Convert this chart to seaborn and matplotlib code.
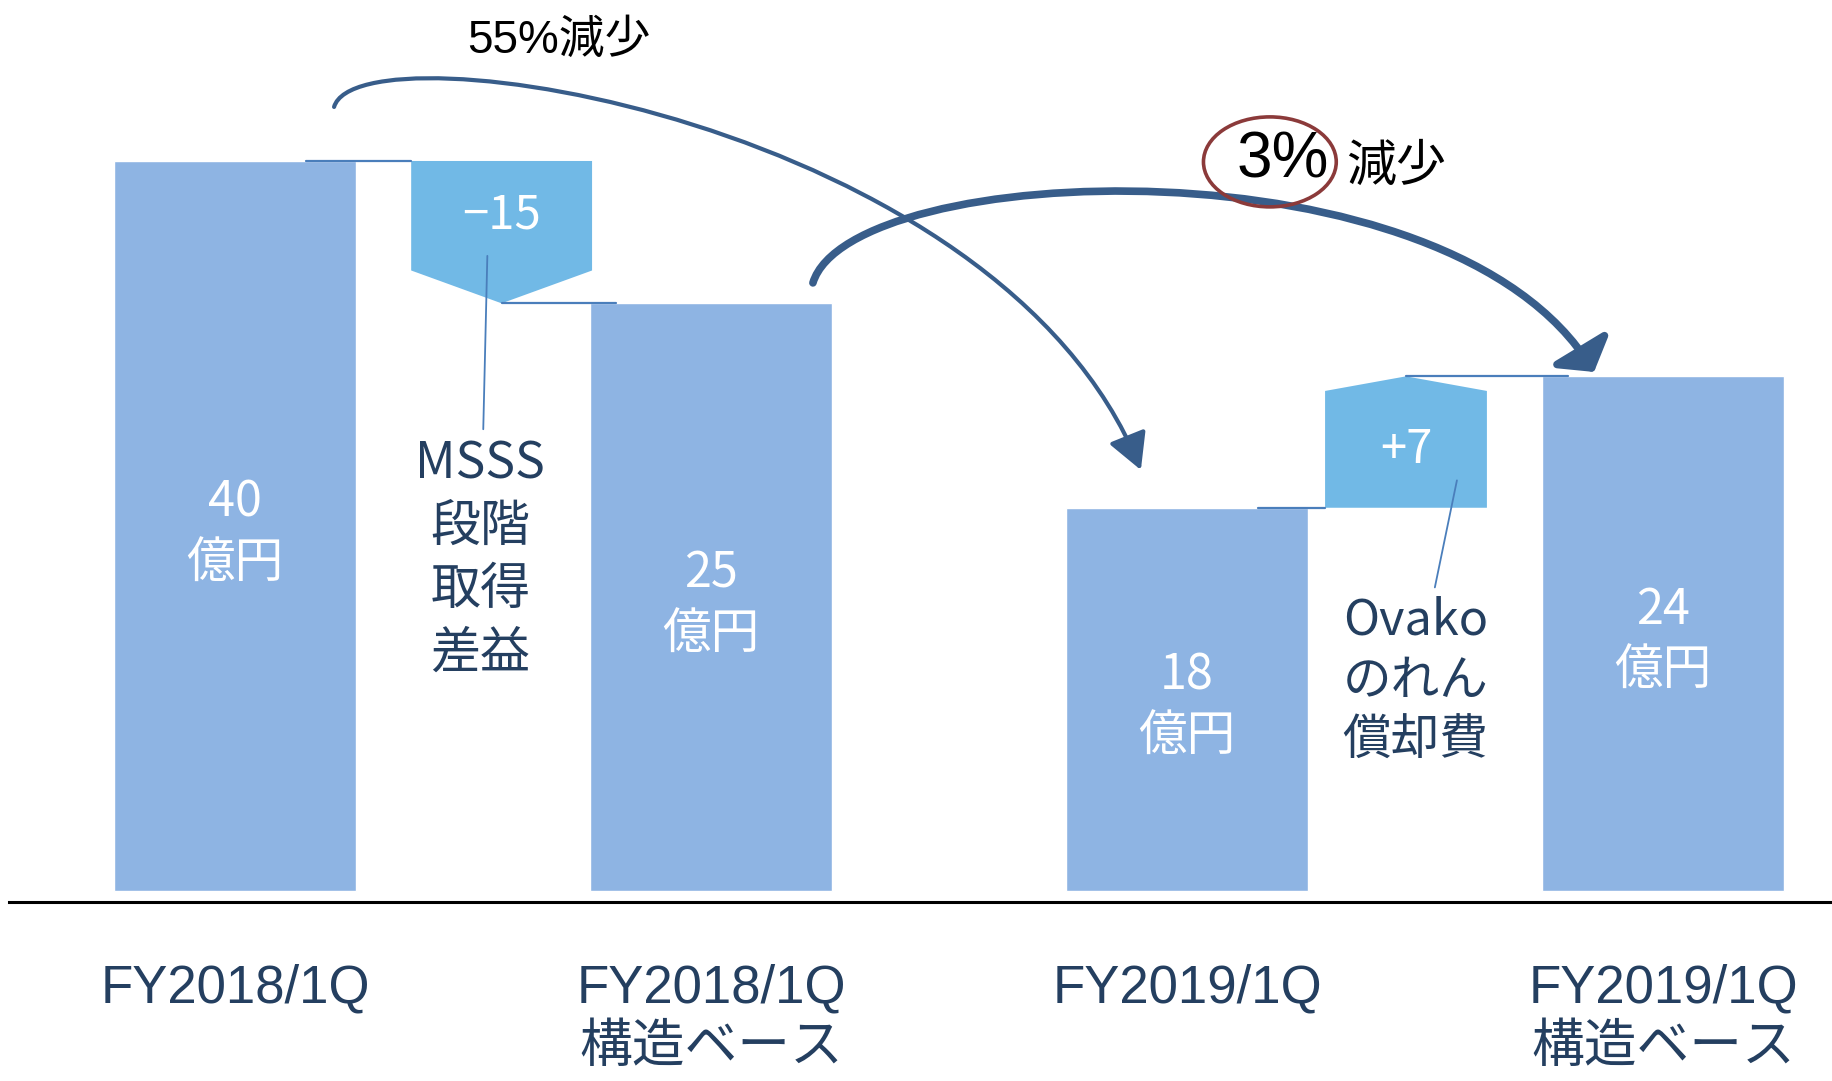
import matplotlib
matplotlib.use("Agg")
import matplotlib.pyplot as plt
from matplotlib import font_manager
from matplotlib.patches import Polygon, Ellipse, FancyArrowPatch
from matplotlib.path import Path
import seaborn as sns
import pandas as pd

# values
categories = ["FY2018/1Q", "FY2018/1Q\n構造ベース", "FY2019/1Q", "FY2019/1Q\n構造ベース"]
totals = [40, 25, 18, 24]                # 億円, as printed on the bars
bar_levels = [40, 32.2, 21.0, 28.2]      # bar heights as drawn (the original is not to scale)
delta_labels = ["−15", "+7"]             # bridge boxes between bar 0->1 and bar 2->3
delta_from = [0, 2]
delta_notes = ["MSSS\n段階\n取得\n差益", "Ovako\nのれん\n償却費"]
change_big = "55%減少"
change_small = ["3%", "減少"]

bar_color = "#8EB4E3"
delta_color = "#71B9E6"
navy = "#243F60"
line_blue = "#4A7EBB"
arrow_blue = "#385D8A"

sns.set_style("white")
names = {f.name for f in font_manager.fontManager.ttflist}
narrow = "Liberation Sans Narrow" if "Liberation Sans Narrow" in names else "Liberation Sans"
plt.rcParams["font.family"] = ["Noto Sans CJK JP", "DejaVu Sans"]
narrow_fam = [narrow, "Noto Sans CJK JP", "DejaVu Sans"]

fig = plt.figure(figsize=(18.32, 10.81), dpi=100)
ax = fig.add_axes([0.0049, 0.1656, 0.9951, 0.8344])

df = pd.DataFrame({"category": categories, "level": bar_levels})
sns.barplot(data=df, x="category", y="level", color=bar_color, saturation=1,
            width=0.51, ax=ax, zorder=2)
ax.set_xlim(-0.475, 3.355)
ax.set_ylim(-0.6, 48.82)
ax.set_xlabel("")
ax.set_ylabel("")
ax.set_yticks([])
ax.tick_params(axis="x", length=0, pad=44, labelsize=38, labelcolor=navy,
               labelfontfamily=narrow_fam)
for lab in ax.get_xticklabels():
    lab.set_linespacing(1.25)
for s in ["left", "top", "right"]:
    ax.spines[s].set_visible(False)
ax.spines["bottom"].set_linewidth(2.2)
ax.spines["bottom"].set_color("black")

# values inside the bars
for i, (t, lv) in enumerate(zip(totals, bar_levels)):
    ax.text(i, lv / 2 - 0.4, f"{t}\n億円", ha="center", va="center",
            color="white", fontsize=35, linespacing=1.3, zorder=4)

# bridge boxes (pentagon pointing to the next level)
dw = [0.38, 0.34]
shift = [0.06, -0.04]
tips = [1.8, 0.8]
for k, i in enumerate(delta_from):
    xc = i + 0.5 + shift[k]
    hw = dw[k] / 2
    y0, y1 = bar_levels[i], bar_levels[i + 1]
    sign = 1 if y1 > y0 else -1
    shoulder = y1 - sign * tips[k]
    pts = [(xc - hw, y0), (xc + hw, y0), (xc + hw, shoulder),
           (xc, y1), (xc - hw, shoulder)]
    ax.add_patch(Polygon(pts, closed=True, facecolor=delta_color,
                         edgecolor="none", zorder=2))
    ax.text(xc, (y0 + shoulder) / 2, delta_labels[k], ha="center", va="center",
            color="white", fontsize=34, zorder=4)
    # connectors
    ax.plot([i + 0.15, xc - hw], [y0, y0], color=line_blue, lw=1.6, zorder=3)
    ax.plot([xc, i + 1 - 0.2], [y1, y1], color=line_blue, lw=1.6, zorder=3)

# notes with leader lines
ax.annotate(delta_notes[0], xy=(0.53, 34.8), xytext=(0.515, 18.2),
            ha="center", va="center", color=navy, fontsize=36, linespacing=1.28,
            arrowprops=dict(arrowstyle="-", color=line_blue, lw=1.3,
                            shrinkA=4, shrinkB=0))
ax.annotate(delta_notes[1], xy=(2.567, 22.5), xytext=(2.48, 11.5),
            ha="center", va="center", color=navy, fontsize=35, linespacing=1.28,
            arrowprops=dict(arrowstyle="-", color=line_blue, lw=1.3,
                            shrinkA=4, shrinkB=0))

# change arrows
codes = [Path.MOVETO, Path.CURVE4, Path.CURVE4, Path.CURVE4]
thin = Path([(0.208, 42.96), (0.26, 47.6), (1.607, 42.25), (1.903, 23.07)], codes)
ax.add_patch(FancyArrowPatch(path=thin, arrowstyle="-|>,head_length=1.1,head_width=0.6",
                             mutation_scale=20, color=arrow_blue, lw=3.0, zorder=6))
thick = Path([(1.214, 33.32), (1.292, 40.05), (2.553, 41.42), (2.855, 28.44)], codes)
ax.add_patch(FancyArrowPatch(path=thick, arrowstyle="-|>,head_length=0.75,head_width=1.0",
                             mutation_scale=20, color=arrow_blue, lw=5.5, zorder=5))

ax.text(0.681, 46.6, change_big, ha="center", va="center", color="black",
        fontsize=33, family=narrow_fam, zorder=7)
ax.add_patch(Ellipse((2.174, 39.95), 0.279, 4.93, facecolor="none",
                     edgecolor="#8B3A3A", lw=2.6, zorder=7))
ax.text(2.202, 40.0, change_small[0], ha="center", va="center", color="black",
        fontsize=46, family=narrow_fam, zorder=8)
ax.text(2.44, 39.6, change_small[1], ha="center", va="center", color="black",
        fontsize=36, family=narrow_fam, zorder=8)

fig.savefig("out.png", dpi=100)
